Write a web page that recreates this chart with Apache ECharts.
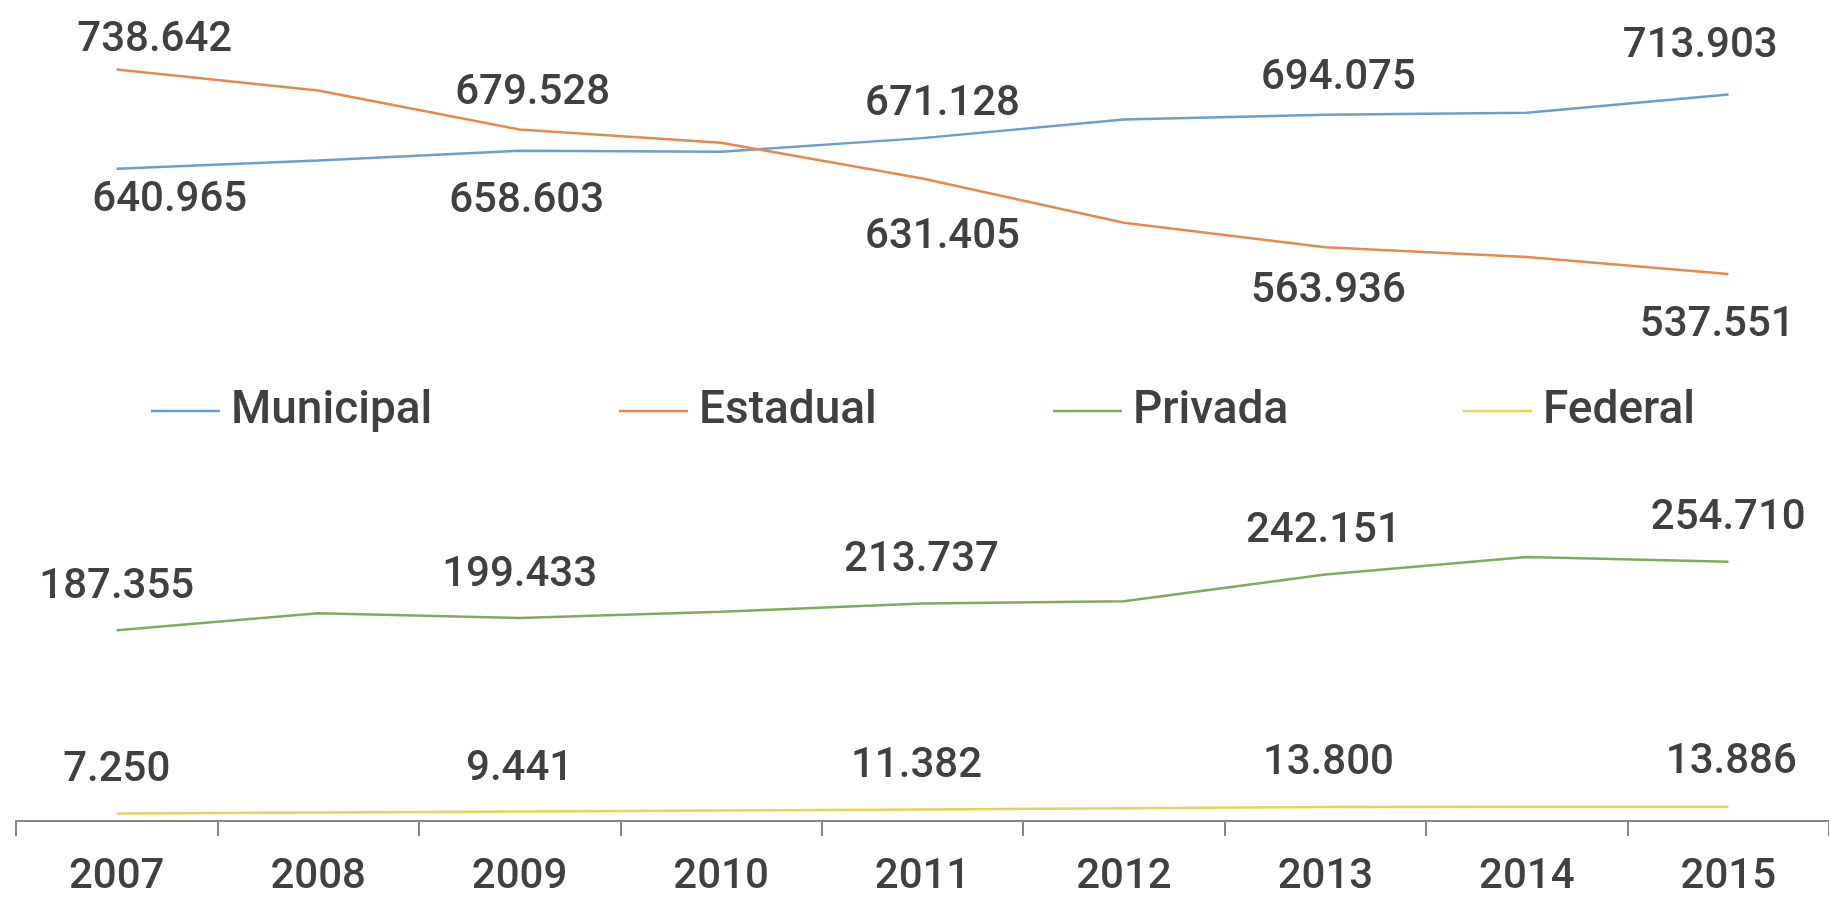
<!DOCTYPE html>
<html>
<head>
<meta charset="utf-8">
<script src="https://cdn.jsdelivr.net/npm/echarts@6/dist/echarts.min.js"></script>
<style>
  html, body { margin: 0; padding: 0; background: #ffffff; }
  #chart { width: 1829px; height: 899px; }
</style>
</head>
<body>
<div id="chart"></div>
<script>
// ---- Data ----
var years = ['2007', '2008', '2009', '2010', '2011', '2012', '2013', '2014', '2015'];
var municipal = [640965, 649200, 658603, 657700, 671128, 689500, 694075, 696000, 713903];
var estadual  = [738642, 718000, 679528, 666500, 631405, 588000, 563936, 554200, 537551];
var privada   = [187355, 204100, 199433, 205700, 213737, 216000, 242151, 259400, 254710];
var federal   = [7250, 8300, 9441, 10400, 11382, 12600, 13800, 13900, 13886];
var seriesNames = ['Municipal', 'Estadual', 'Privada', 'Federal'];

// ---- Style (label placement relative to each labelled point) ----
var colors = ['#6a9fcc', '#e58a4e', '#7fab5e', '#e2d55a'];
var labelOffsets = {
  Municipal: {0: [53, 32], 2: [7, 51], 4: [20, -34], 6: [13, -36], 8: [-28, -48]},
  Estadual:  {0: [38, -29], 2: [13, -36], 4: [20, 59], 6: [3, 44], 8: [-11, 51]},
  Privada:   {0: [0, -43], 2: [0, -43], 4: [-1, -43], 6: [-2, -43], 8: [0, -43]},
  Federal:   {0: [0, -43], 2: [0, -42], 4: [-6, -43], 6: [3, -43], 8: [3, -44]}
};
var legendLeft = [151, 619, 1053, 1463];
var textColor = '#404040';
var font = 'Roboto';

function fmt(v) {
  return String(v).replace(/\B(?=(\d{3})+(?!\d))/g, '.');
}

function buildData(name, values) {
  return values.map(function (v, i) {
    var off = labelOffsets[name][i];
    if (off) {
      return { value: v, label: { show: true, offset: off } };
    }
    return { value: v, label: { show: false } };
  });
}

var allValues = [municipal, estadual, privada, federal];
var series = seriesNames.map(function (name, k) {
  return {
    name: name,
    type: 'line',
    data: buildData(name, allValues[k]),
    color: colors[k],
    smooth: false,
    symbol: 'circle',
    symbolSize: 1,
    showSymbol: true,
    lineStyle: { width: 2.5, color: colors[k] },
    itemStyle: { color: colors[k] },
    label: {
      show: false,
      position: 'inside',
      color: textColor,
      fontFamily: font,
      fontWeight: 500,
      fontSize: 42,
      formatter: function (p) { return fmt(p.value); }
    },
    emphasis: { disabled: true },
    animation: false
  };
});

var legends = seriesNames.map(function (name, k) {
  return {
    data: [name],
    left: legendLeft[k],
    top: 388,
    padding: 0,
    icon: 'rect',
    itemWidth: 69,
    itemHeight: 2.5,
    selectedMode: false,
    textStyle: {
      color: textColor,
      fontFamily: font,
      fontWeight: 500,
      fontSize: 46,
      padding: [0, 0, 0, 6]
    }
  };
});

var chart = echarts.init(document.getElementById('chart'), null, { renderer: 'canvas' });
chart.setOption({
  backgroundColor: '#ffffff',
  animation: false,
  legend: legends,
  grid: { left: 16, right: 0, top: 7, bottom: 78, containLabel: false },
  xAxis: {
    type: 'category',
    data: years,
    boundaryGap: true,
    axisLine: { show: true, lineStyle: { color: '#868686', width: 2 } },
    axisTick: { show: true, length: 15, lineStyle: { color: '#868686', width: 2 } },
    axisLabel: { color: textColor, fontFamily: font, fontWeight: 500, fontSize: 42, margin: 35 },
    splitLine: { show: false }
  },
  yAxis: {
    type: 'value',
    min: 0,
    max: 800000,
    show: false,
    splitLine: { show: false }
  },
  series: series
});
</script>
</body>
</html>
